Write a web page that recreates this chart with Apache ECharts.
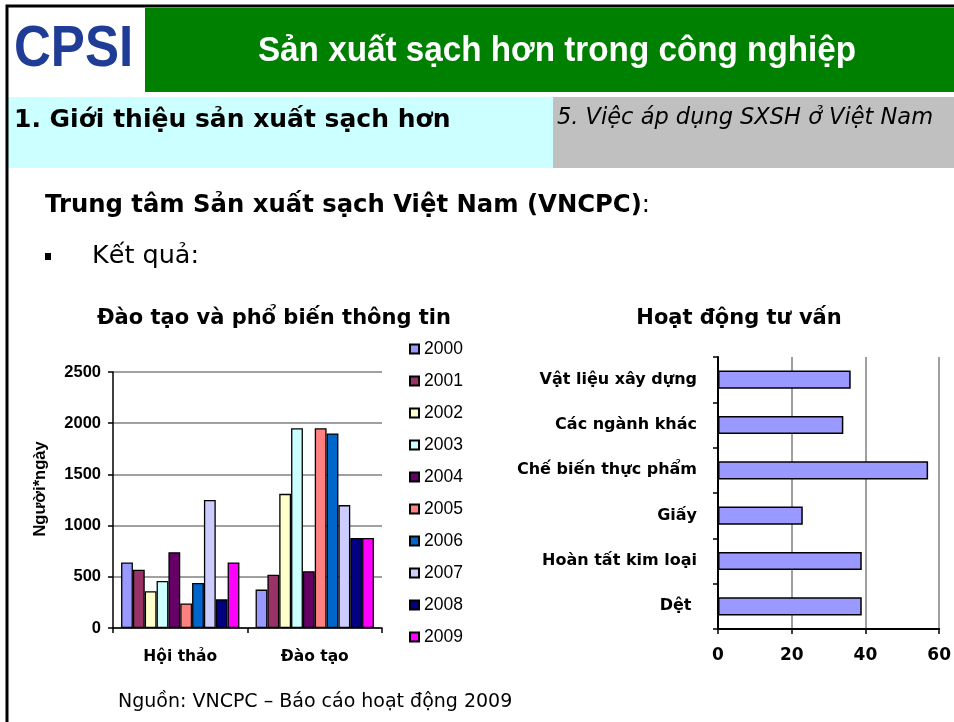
<!DOCTYPE html>
<html><head><meta charset="utf-8">
<script src="https://cdn.jsdelivr.net/npm/echarts@6/dist/echarts.min.js"></script>
<style>html,body{margin:0;padding:0;background:#fff}#c{width:954px;height:722px}</style>
</head><body><div id="c"></div>
<script>
// ---- data ----
const trainingCategories = ['Hội thảo', 'Đào tạo'];
const years = ['2000','2001','2002','2003','2004','2005','2006','2007','2008','2009'];
const hoiThaoValues = [640, 570, 360, 460, 740, 240, 440, 1250, 280, 640];
const daoTaoValues  = [375, 520, 1310, 1950, 555, 1950, 1900, 1200, 880, 880];
const yearColors = ['#9999FF','#993366','#FFFFCC','#CCFFFF','#660066','#FF8080','#0066CC','#CCCCFF','#000080','#FF00FF'];
const leftTicks = [0, 500, 1000, 1500, 2000, 2500];

const advisoryCategories = ['Dệt ', 'Hoàn tất kim loại', 'Giấy', 'Chế biến thực phẩm', 'Các ngành khác', 'Vật liệu xây dựng'];
const advisoryValues = [39, 39, 23, 57, 34, 36];
const rightTicks = [0, 20, 40, 60];

const VF = 'DejaVu Sans, Verdana, sans-serif';
const AF = 'Liberation Sans, Arial, sans-serif';

const chart = echarts.init(document.getElementById('c'), null, {renderer: 'canvas'});

const barSeries = years.map((y, i) => ({
  name: y, type: 'bar', xAxisIndex: 0, yAxisIndex: 0,
  data: [hoiThaoValues[i], daoTaoValues[i]],
  barGap: '0%', barCategoryGap: '12%',
  itemStyle: {color: yearColors[i], borderColor: '#000', borderWidth: 1.3},
  emphasis: {disabled: true}
}));

const option = {
  animation: false,
  graphic: [
    // frame
    {type: 'rect', shape: {x: 7, y: 6, width: 960, height: 730}, style: {fill: 'none', stroke: '#000', lineWidth: 3}, z: 10},
    // header
    {type: 'rect', shape: {x: 145, y: 8, width: 820, height: 84}, style: {fill: '#008000'}},
    {type: 'text', x: 14, y: 50, scaleX: 0.88, style: {text: 'CPSI', font: 'bold 58px ' + AF, fill: '#1f3d96', textVerticalAlign: 'middle'}},
    {type: 'text', x: 557, y: 51, scaleX: 0.95, style: {text: 'Sản xuất sạch hơn trong công nghiệp', font: 'bold 35px ' + AF, fill: '#fff', textAlign: 'center', textVerticalAlign: 'middle'}},
    {type: 'rect', shape: {x: 8, y: 97, width: 545, height: 71}, style: {fill: '#CCFFFF'}},
    {type: 'rect', shape: {x: 553, y: 97, width: 410, height: 71}, style: {fill: '#C0C0C0'}},
    {type: 'text', style: {x: 14, y: 120, text: '1. Giới thiệu sản xuất sạch hơn', font: 'bold 25px ' + VF, fill: '#000', textVerticalAlign: 'middle'}},
    {type: 'text', style: {x: 557, y: 118, text: '5. Việc áp dụng SXSH ở Việt Nam', font: 'italic 22.5px ' + VF, fill: '#000', textVerticalAlign: 'middle'}},
    // body text
    {type: 'text', style: {x: 45, y: 206, text: '{b|Trung tâm Sản xuất sạch Việt Nam (VNCPC)}{r|:}',
      rich: {b: {fontFamily: VF, fontWeight: 'bold', fontSize: 24.3, color: '#000'}, r: {fontFamily: VF, fontSize: 24.3, color: '#000'}},
      textVerticalAlign: 'middle'}},
    {type: 'rect', shape: {x: 45, y: 253, width: 6, height: 7}, style: {fill: '#000'}},
    {type: 'text', style: {x: 92, y: 256, text: 'Kết quả:', font: '25.5px ' + VF, fill: '#000', textVerticalAlign: 'middle'}},
    {type: 'text', style: {x: 274, y: 319, text: 'Đào tạo và phổ biến thông tin', font: 'bold 21px ' + VF, fill: '#000', textAlign: 'center', textVerticalAlign: 'middle'}},
    {type: 'text', style: {x: 739, y: 319, text: 'Hoạt động tư vấn', font: 'bold 21px ' + VF, fill: '#000', textAlign: 'center', textVerticalAlign: 'middle'}},
    {type: 'text', style: {x: 118, y: 702, text: 'Nguồn: VNCPC – Báo cáo hoạt động 2009', font: '19px ' + VF, fill: '#000', textVerticalAlign: 'middle'}},
    // y-axis title of the left chart
    {type: 'text', x: 40, y: 489, rotation: Math.PI / 2, style: {text: 'Người*ngày', font: 'bold 16.5px ' + AF, fill: '#000', textAlign: 'center', textVerticalAlign: 'middle'}}
  ],
  legend: {
    data: years, orient: 'vertical', left: 404, top: 335,
    itemWidth: 9, itemHeight: 9, itemGap: 14, icon: 'rect',
    textStyle: {fontFamily: AF, fontSize: 17.5, color: '#000', lineHeight: 18},
    selectedMode: false
  },
  grid: [
    {left: 113, right: 572, top: 372, bottom: 94},
    {left: 718, right: 11, top: 357, bottom: 93}
  ],
  xAxis: [
    {type: 'category', gridIndex: 0, data: trainingCategories,
      axisLine: {lineStyle: {color: '#000', width: 1.5}},
      axisTick: {show: true, length: 5, lineStyle: {color: '#000', width: 1.5}},
      axisLabel: {margin: 21, color: '#000', fontFamily: VF, fontWeight: 'bold', fontSize: 15.5}},
    {type: 'value', gridIndex: 1, min: rightTicks[0], max: rightTicks[rightTicks.length - 1], interval: 20,
      axisLine: {show: true, lineStyle: {color: '#000', width: 2}},
      axisTick: {show: true, length: 5, lineStyle: {color: '#000', width: 1.5}},
      splitLine: {show: true, lineStyle: {color: '#808080', width: 1.5}},
      axisLabel: {margin: 18, color: '#000', fontFamily: VF, fontWeight: 'bold', fontSize: 17}}
  ],
  yAxis: [
    {type: 'value', gridIndex: 0, min: leftTicks[0], max: leftTicks[leftTicks.length - 1], interval: 500,
      axisLine: {show: true, lineStyle: {color: '#000', width: 1.5}},
      axisTick: {show: true, length: 5, lineStyle: {color: '#000', width: 1.5}},
      splitLine: {show: true, lineStyle: {color: '#808080', width: 1.5}},
      axisLabel: {margin: 12, color: '#000', fontFamily: AF, fontWeight: 'bold', fontSize: 16.5, formatter: v => String(v)}},
    {type: 'category', gridIndex: 1, data: advisoryCategories,
      axisLine: {lineStyle: {color: '#000', width: 2}},
      axisTick: {show: true, length: 5, lineStyle: {color: '#000', width: 1.5}},
      axisLabel: {margin: 21, color: '#000', fontFamily: VF, fontWeight: 'bold', fontSize: 16}}
  ],
  series: barSeries.concat([{
    name: 'Hoạt động tư vấn', type: 'bar', xAxisIndex: 1, yAxisIndex: 1,
    data: advisoryValues, barCategoryGap: '60%',
    itemStyle: {color: '#9999FF', borderColor: '#000', borderWidth: 1.5},
    emphasis: {disabled: true}
  }])
};
chart.setOption(option);
</script></body></html>
